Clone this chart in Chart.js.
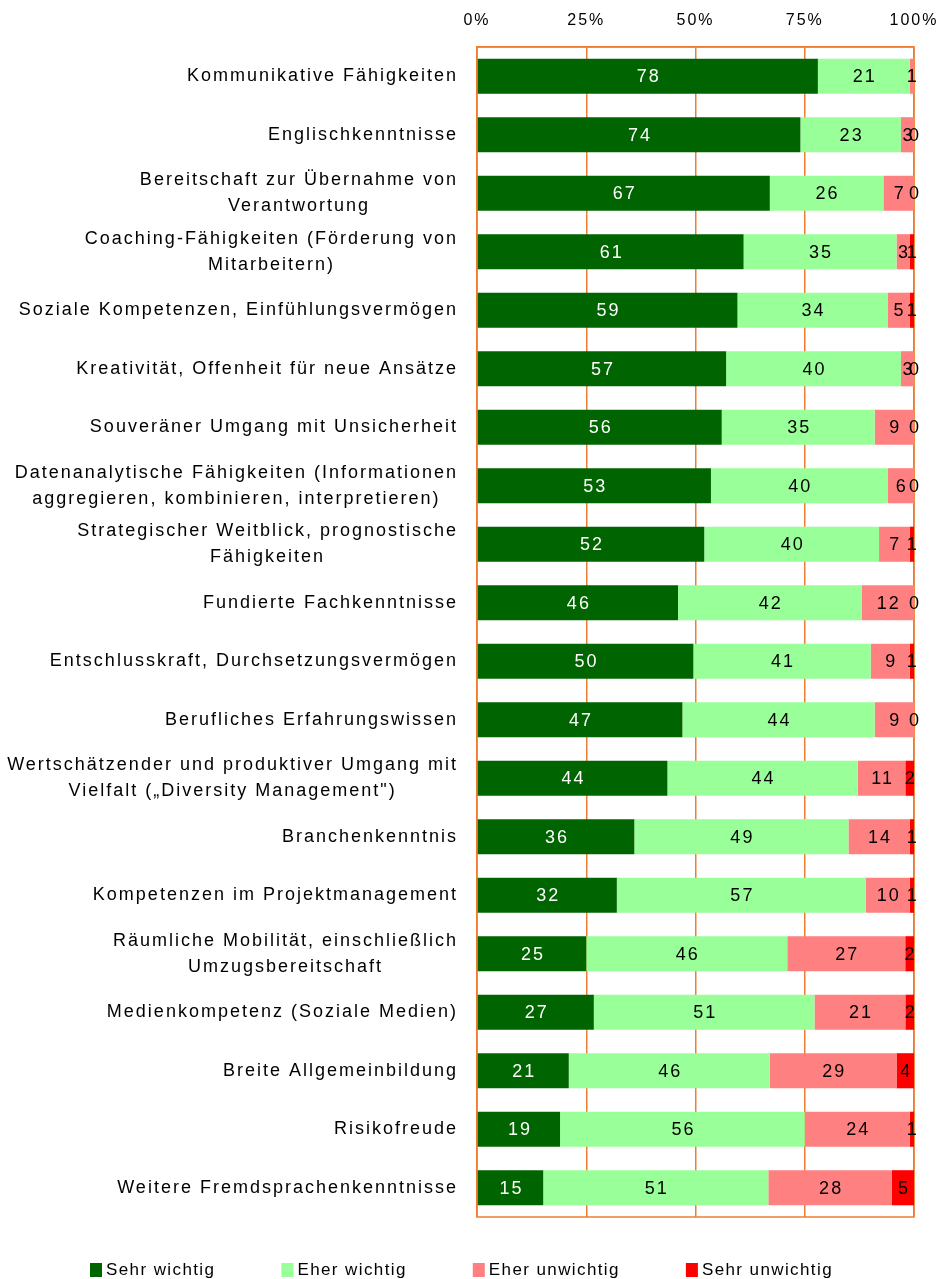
<!DOCTYPE html>
<html>
<head>
<meta charset="utf-8">
<script src="https://cdn.jsdelivr.net/npm/chart.js@4.4.0/dist/chart.umd.min.js"></script>
<style>
    body { margin: 0; background: #fff; }
    #wrap { width: 937px; height: 1279px; position: relative; }
</style>
</head>
<body>
<div id="wrap"><canvas id="chart"></canvas></div>
<script>
var categories = [
    ['Kommunikative Fähigkeiten'],
    ['Englischkenntnisse'],
    ['Bereitschaft zur Übernahme von', 'Verantwortung'],
    ['Coaching-Fähigkeiten (Förderung von', 'Mitarbeitern)'],
    ['Soziale Kompetenzen, Einfühlungsvermögen'],
    ['Kreativität, Offenheit für neue Ansätze'],
    ['Souveräner Umgang mit Unsicherheit'],
    ['Datenanalytische Fähigkeiten (Informationen', 'aggregieren, kombinieren, interpretieren)'],
    ['Strategischer Weitblick, prognostische', 'Fähigkeiten'],
    ['Fundierte Fachkenntnisse'],
    ['Entschlusskraft, Durchsetzungsvermögen'],
    ['Berufliches Erfahrungswissen'],
    ['Wertschätzender und produktiver Umgang mit', 'Vielfalt („Diversity Management")'],
    ['Branchenkenntnis'],
    ['Kompetenzen im Projektmanagement'],
    ['Räumliche Mobilität, einschließlich', 'Umzugsbereitschaft'],
    ['Medienkompetenz (Soziale Medien)'],
    ['Breite Allgemeinbildung'],
    ['Risikofreude'],
    ['Weitere Fremdsprachenkenntnisse']
];
var seriesNames = ['Sehr wichtig', 'Eher wichtig', 'Eher unwichtig', 'Sehr unwichtig'];
var sehrWichtig = [78, 74, 67, 61, 59, 57, 56, 53, 52, 46, 50, 47, 44, 36, 32, 25, 27, 21, 19, 15];
var eherWichtig = [21, 23, 26, 35, 34, 40, 35, 40, 40, 42, 41, 44, 44, 49, 57, 46, 51, 46, 56, 51];
var eherUnwichtig = [1, 3, 7, 3, 5, 3, 9, 6, 7, 12, 9, 9, 11, 14, 10, 27, 21, 29, 24, 28];
var sehrUnwichtig = [null, 0, 0, 1, 1, 0, 0, 0, 1, 0, 1, 0, 2, 1, 1, 2, 2, 4, 1, 5];
var tickValues = [0, 25, 50, 75, 100];

var seriesColors = ['#006400', '#99ff99', '#ff8080', '#ff0000'];
var frameColor = '#ee7d31';
var fontFamily = '"Liberation Sans", Arial, sans-serif';
var labelFont = '18px ' + fontFamily;

// excel-style 100% stacking: each row scaled to its own total
function toShares(values) {
    return values.map(function (v, j) {
        if (v === null) return null;
        var total = (sehrWichtig[j] || 0) + (eherWichtig[j] || 0) + (eherUnwichtig[j] || 0) + (sehrUnwichtig[j] || 0);
        return v / total * 100;
    });
}

var allSeries = [sehrWichtig, eherWichtig, eherUnwichtig, sehrUnwichtig];
var datasets = allSeries.map(function (values, i) {
    return {
        label: seriesNames[i],
        data: toShares(values),
        values: values,
        backgroundColor: seriesColors[i],
        borderWidth: 0,
        barPercentage: 0.6,
        categoryPercentage: 1
    };
});

// the original text is widely spaced
var spacing = {
    id: 'spacing',
    beforeInit: function (chart) { chart.ctx.letterSpacing = '2px'; },
    beforeDraw: function (chart) { chart.ctx.letterSpacing = '2px'; }
};

var categoryLabels = {
    id: 'categoryLabels',
    afterDraw: function (chart) {
        var ctx = chart.ctx;
        var yScale = chart.scales.y;
        var right = chart.chartArea.left - 19;
        ctx.save();
        ctx.font = labelFont;
        ctx.letterSpacing = '2px';
        ctx.fillStyle = '#000';
        ctx.textAlign = 'center';
        ctx.textBaseline = 'middle';
        categories.forEach(function (lines, j) {
            var widest = 0;
            lines.forEach(function (t) { widest = Math.max(widest, ctx.measureText(t).width); });
            var cx = right - widest / 2;
            var y = yScale.getPixelForValue(j) - (lines.length - 1) * 13;
            lines.forEach(function (t, k) {
                ctx.fillText(t, cx, y + k * 26);
            });
        });
        ctx.restore();
    }
};

var valueLabels = {
    id: 'valueLabels',
    afterDatasetsDraw: function (chart) {
        var ctx = chart.ctx;
        ctx.save();
        ctx.font = labelFont;
        ctx.letterSpacing = '2px';
        ctx.textAlign = 'center';
        ctx.textBaseline = 'middle';
        chart.data.datasets.forEach(function (ds, i) {
            var meta = chart.getDatasetMeta(i);
            meta.data.forEach(function (bar, j) {
                if (ds.values[j] === null) return;
                ctx.fillStyle = i === 0 ? '#fff' : '#000';
                ctx.fillText(String(ds.values[j]), (bar.x + bar.base) / 2 + 1, bar.y + 1);
            });
        });
        ctx.restore();
    }
};

var frame = {
    id: 'frame',
    beforeDatasetsDraw: function (chart) {
        var a = chart.chartArea;
        var ctx = chart.ctx;
        ctx.save();
        ctx.strokeStyle = frameColor;
        ctx.lineWidth = 1.5;
        ctx.strokeRect(a.left, a.top, a.right - a.left, a.bottom - a.top);
        ctx.restore();
    }
};

var bottomLegend = {
    id: 'bottomLegend',
    afterDraw: function (chart) {
        var ctx = chart.ctx;
        var x = 90;
        var y = 1270;
        ctx.save();
        ctx.font = '17px ' + fontFamily;
        ctx.letterSpacing = '1.4px';
        ctx.textAlign = 'left';
        ctx.textBaseline = 'middle';
        chart.data.datasets.forEach(function (ds) {
            ctx.fillStyle = ds.backgroundColor;
            ctx.fillRect(x, y - 7, 12, 14);
            ctx.fillStyle = '#000';
            ctx.fillText(ds.label, x + 16, y);
            x += 16 + ctx.measureText(ds.label).width + 66;
        });
        ctx.restore();
    }
};

var myChart = new Chart(document.getElementById('chart'), {
    type: 'bar',
    data: {
        labels: categories,
        datasets: datasets
    },
    options: {
        indexAxis: 'y',
        responsive: true,
        maintainAspectRatio: false,
        animation: false,
        layout: { padding: { top: 0, right: 23, bottom: 62, left: 0 } },
        plugins: {
            legend: { display: false },
            tooltip: { enabled: false }
        },
        scales: {
            x: {
                position: 'top',
                stacked: true,
                min: 0,
                max: 100,
                afterBuildTicks: function (scale) {
                    scale.ticks = tickValues.map(function (v) { return { value: v }; });
                },
                afterFit: function (scale) {
                    scale.height = 47;
                    scale.paddingLeft = 0;
                    scale.paddingRight = 0;
                },
                ticks: {
                    callback: function (v) { return v + '%'; },
                    color: '#000',
                    font: { family: fontFamily, size: 16 },
                    padding: 17,
                    maxRotation: 0
                },
                grid: { color: frameColor, lineWidth: 1.5, drawTicks: false },
                border: { color: frameColor, width: 1.5 }
            },
            y: {
                stacked: true,
                afterFit: function (scale) { scale.width = 477; },
                ticks: { display: false },
                grid: { display: false },
                border: { display: false }
            }
        }
    },
    plugins: [spacing, frame, valueLabels, categoryLabels, bottomLegend]
});
</script>
</body>
</html>
